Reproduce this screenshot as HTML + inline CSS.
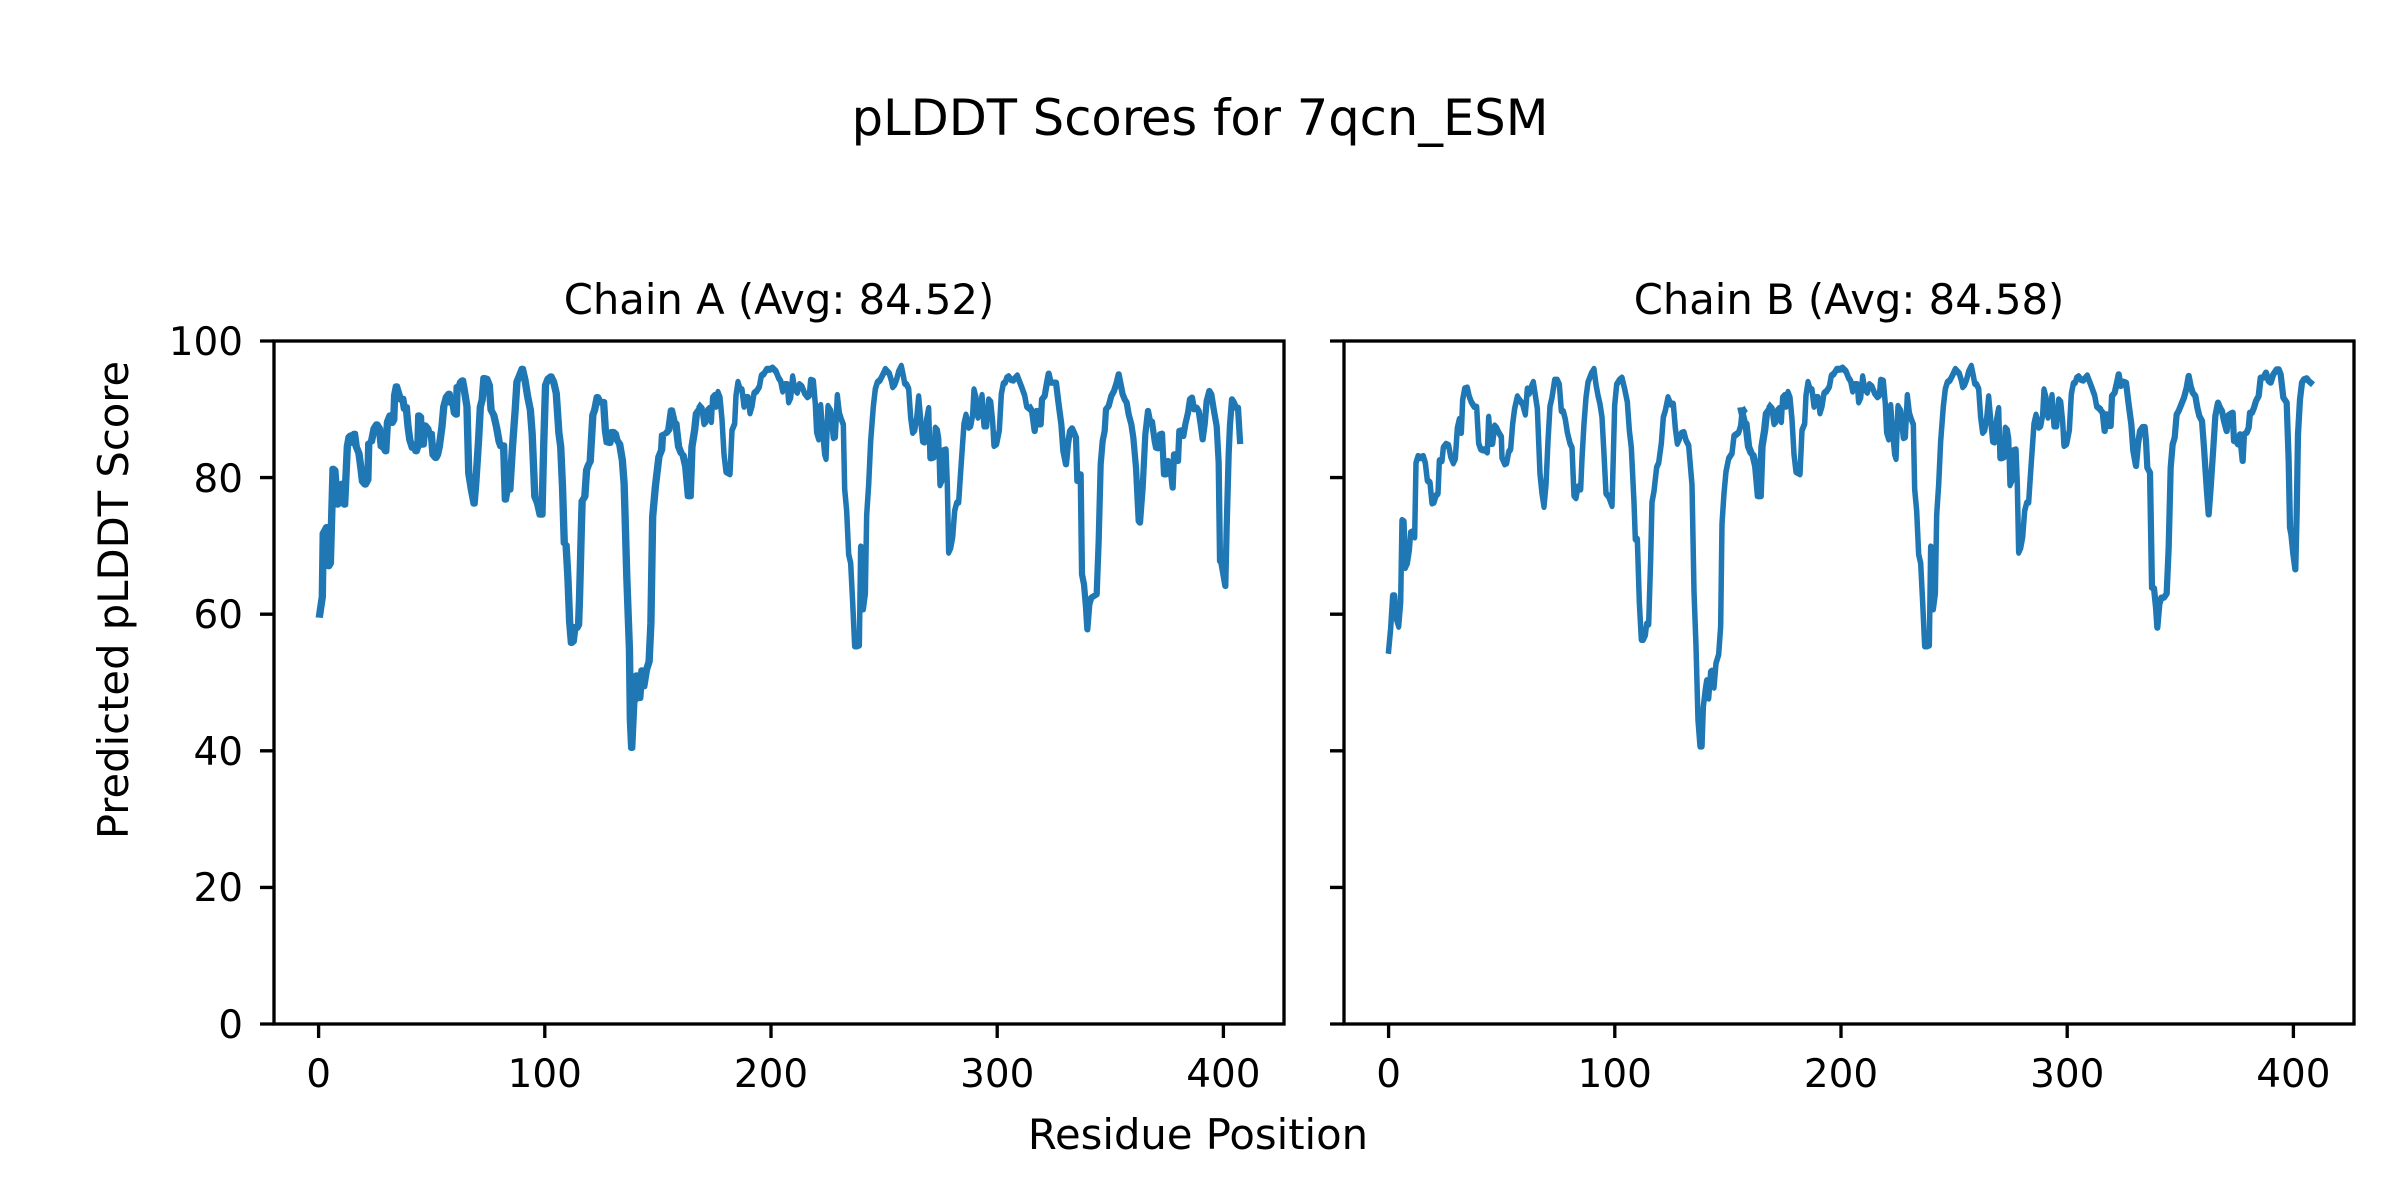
<!DOCTYPE html>
<html><head><meta charset="utf-8"><style>
html,body{margin:0;padding:0;background:#fff;}
svg{display:block;}
text{font-family:"DejaVu Sans","Liberation Sans",sans-serif;fill:#000;}
.ln{fill:none;stroke:#1f77b4;stroke-linejoin:round;stroke-linecap:square;}
.z1 .ln{stroke-width:16.5;}
.z3 .ln{stroke-width:16.5;}
.z5 .ln{stroke-width:18.75;}
</style></head><body>
<svg width="2400" height="1200" viewBox="0 0 2400 1200" xmlns="http://www.w3.org/2000/svg">
<rect width="2400" height="1200" fill="#fff"/>
<text x="1200" y="135" font-size="49.5" text-anchor="middle">pLDDT Scores for 7qcn_ESM</text>
<text x="779" y="314" font-size="41.7" text-anchor="middle">Chain A (Avg: 84.52)</text>
<text x="1849" y="314" font-size="41.7" text-anchor="middle">Chain B (Avg: 84.58)</text>
<text x="1198" y="1149" font-size="41.7" text-anchor="middle">Residue Position</text>
<text transform="translate(128,600) rotate(-90)" font-size="41.7" text-anchor="middle">Predicted pLDDT Score</text>

<g font-size="38.9" text-anchor="end">
<text x="243" y="355">100</text>
<text x="243" y="492">80</text>
<text x="243" y="628">60</text>
<text x="243" y="765">40</text>
<text x="243" y="901">20</text>
<text x="243" y="1038">0</text>
</g>
<g font-size="38.9" text-anchor="middle">
<text x="318.6" y="1087">0</text>
<text x="544.8" y="1087">100</text>
<text x="771" y="1087">200</text>
<text x="997.2" y="1087">300</text>
<text x="1223.4" y="1087">400</text>
<text x="1388.6" y="1087">0</text>
<text x="1614.8" y="1087">100</text>
<text x="1841" y="1087">200</text>
<text x="2067.2" y="1087">300</text>
<text x="2293.4" y="1087">400</text>
</g>

<g stroke="#000" stroke-width="3.33">
<path d="M274,341H260M274,477.6H260M274,614.2H260M274,750.8H260M274,887.4H260M274,1024H260"/>
<path d="M1344,341H1330M1344,477.6H1330M1344,614.2H1330M1344,750.8H1330M1344,887.4H1330M1344,1024H1330"/>
<path d="M318.6,1024V1038M544.8,1024V1038M771,1024V1038M997.2,1024V1038M1223.4,1024V1038"/>
<path d="M1388.6,1024V1038M1614.8,1024V1038M1841,1024V1038M2067.2,1024V1038M2293.4,1024V1038"/>
</g>

<!-- Chain A -->
<g class="z1" transform="translate(200,300) scale(0.44643,0.33333)"><path class="ln" d="M268,945 L274,890 276,700 284,680 288,800 292,790 298,505 302,510 308,615 314,590 318,550 324,615 330,440 334,410 338,405 342,430 346,400 350,440 356,460 360,500 364,545 370,555 376,540 378,430 384,425 390,385 396,372 402,385 406,440 412,445 416,455 420,365 426,345 430,370 434,360 436,285 440,258 446,285 450,300 454,295 458,328 462,320 466,380 470,420 476,445 480,440 484,455 488,440 490,345 494,350 496,435 500,435 504,375 510,385 514,405 518,400 522,465 528,475 532,465 536,440 542,380 546,320 552,290 558,280 562,310 566,305 570,340 574,345 576,260 580,262 584,245 588,240 592,270 598,320 602,520 608,570 614,612 618,545 624,420 628,320 632,300 636,233 642,235 648,255 652,330 658,345 664,380 670,425 674,440 680,435 684,600 688,570 694,570 700,440 706,330 710,245 716,225 722,205 728,240 734,290 740,330 744,400 750,590 756,610 762,645 766,645 770,430 774,255 780,235 786,228 792,245 798,280 804,400 808,440 812,560 816,730 820,735 824,830 828,965 832,1030 836,1025 840,980 844,985 848,975 850,900 852,800 854,695 856,603 862,590 866,510 870,495 874,485 880,345 884,330 890,290 896,305 900,310 904,305 908,390 912,428 918,430 922,395 926,395 930,400 934,420 940,432 946,480 950,550 952,640 956,830 962,1050 964,1260 967,1345 972,1200 975,1200 978,1125 985,1195 990,1110 994,1160 1000,1110 1006,1085 1010,970 1014,650 1020,560 1028,470 1034,450 1036,405 1044,400 1050,390 1056,330 1062,365 1066,370 1072,440 1078,460 1082,465 1088,500 1094,590 1098,590 1102,440 1108,390 1112,340 1120,325"/></g>
<g id="a3" class="z3" transform="translate(700,341) scale(0.33333,0.43554)"><path class="ln" d="M0,150 L6,155 12,190 18,185 22,160 28,155 34,185 38,130 44,125 48,150 54,118 60,130 66,180 72,260 78,300 90,305 96,205 104,190 108,125 114,95 120,110 126,112 132,150 138,130 144,130 150,165 156,150 162,120 170,115 178,105 184,80 192,75 200,65 210,65 218,62 228,70 236,85 242,92 248,115 254,100 262,100 266,140 272,130 278,82 284,110 292,118 298,100 306,105 314,120 322,128 328,125 332,90 340,92 346,145 350,210 356,225 362,148 368,210 374,260 378,270 384,150 392,160 400,222 406,220 412,125 418,165 424,180 430,192 434,340 440,390 446,490 452,510 458,600 464,700 472,700 478,698 482,473 486,475 490,615 496,580 500,400 506,330 512,230 520,150 526,110 532,95 540,90 548,78 556,65 562,70 568,75 574,90 578,105 584,100 590,88 596,70 604,58 610,80 614,97 620,100 626,110 632,175 638,210 644,205 650,178 656,128 662,180 668,230 674,232 680,180 686,155 690,268 696,268 702,266 706,200 712,205 716,225 720,330 726,320 730,252 738,250 742,330 746,485 752,475 758,450 764,390 770,372 776,370 782,300 792,190 798,170 806,198 812,195 818,170 822,112 828,130 834,175 840,165 846,125 852,195 860,195 866,135 872,140 878,185 882,240 890,236 898,205 904,122 910,98 916,95 920,85 926,82 932,88 940,90 946,85 952,80 958,92 966,108 974,125 980,150 988,155"/></g>
<g class="z5" transform="translate(1030,341) scale(0.33333)"><path class="ln" d="M0,200 L6,210 14,270 20,210 24,250 32,250 36,175 44,165 50,130 56,98 62,125 70,125 78,125 86,190 94,250 100,330 108,370 114,310 120,270 126,262 132,275 138,290 142,420 148,400 152,400 156,700 162,730 168,800 172,865 178,790 184,770 192,765 200,760 206,600 212,370 218,300 224,270 228,205 236,195 244,165 252,150 260,125 266,100 272,130 278,160 284,175 290,185 296,220 304,250 310,290 318,380 326,540 330,545 338,440 346,280 354,210 360,240 366,242 374,300 378,320 384,322 390,280 396,278 402,400 408,400 414,360 420,370 428,440 432,340 438,340 444,360 448,270 454,268 460,285 466,250 474,215 480,175 486,170 492,205 500,200 506,210 512,250 518,295 524,250 530,180 538,150 544,160 552,210 560,255 566,365 570,660 574,665 580,700 586,735 590,560 596,340 600,250 606,175 612,185 618,200 624,200 630,300"/></g>

<!-- Chain B -->
<g class="z3" transform="translate(1222,341) scale(0.33333,0.43554)"><path class="ln" d="M500,710 L506,660 512,585 518,585 524,640 530,655 536,600 540,412 546,415 550,520 556,510 562,480 566,440 572,438 578,450 582,280 588,265 596,268 604,265 610,280 616,320 624,325 630,372 636,370 642,355 648,350 652,275 660,275 664,245 672,237 680,240 686,265 694,280 700,270 706,200 712,180 718,210 722,135 728,110 736,108 742,128 748,140 756,150 764,152 770,235 776,248 782,250 788,250 796,255 800,175 806,235 812,235 818,195 824,200 830,210 838,220 840,268 848,282 854,280 860,255 866,248 872,190 878,155 886,128 892,135 902,145 910,168 916,110 922,120 928,105 934,95 940,125 946,155 950,230 954,305 960,350 966,380 972,330 978,230 984,150 990,130 998,90 1006,90 1012,100 1018,160 1024,162 1030,180 1036,210 1044,235 1050,245 1056,355 1062,360 1068,335 1076,340 1080,270 1086,190 1092,130 1098,95 1108,75 1116,65 1122,100 1128,125 1134,145 1140,175 1146,260 1152,350 1160,357 1170,378 1178,148 1184,100 1192,90 1200,85 1208,110 1216,140 1222,205 1228,245 1236,370 1240,455 1246,455 1252,600 1258,685 1264,685 1270,675 1274,650 1280,650 1286,500 1290,370 1296,345 1304,290 1310,280 1318,235 1324,175 1330,160 1338,130 1346,145 1354,145 1360,200 1366,235 1372,225 1378,212 1386,210 1392,228 1400,240 1410,330 1416,575 1422,700 1428,870 1434,930 1440,930 1444,840 1450,800 1454,780 1460,820 1466,760 1470,758 1476,795 1482,740 1490,720 1496,655 1500,420 1506,350 1512,300 1520,270 1530,258 1536,218 1542,215 1550,210 1556,195 1560,165 1566,160"/></g>
<g class="z1" transform="translate(1270,300) scale(0.44643,0.33333)"><path class="ln" d="M1056,330 L1062,365 1066,370 1072,440 1078,460 1082,465 1088,500 1094,590 1098,590 1102,440 1108,390 1112,340 1120,325"/></g>
<use href="#a3" transform="translate(1070,0)"/>
<g class="z5" transform="translate(2100,341) scale(0.33333)"><path class="ln" d="M0,205 L8,215 14,270 20,220 24,255 32,255 36,165 44,155 52,120 56,100 62,135 70,122 78,125 86,190 94,250 100,330 108,375 114,310 120,270 128,258 134,258 138,300 142,380 150,395 156,740 162,742 168,800 172,860 178,790 184,770 192,770 200,758 206,620 212,380 218,310 224,290 230,220 236,210 244,190 252,170 260,140 266,105 272,135 278,155 286,165 292,200 298,225 306,240 312,320 320,440 326,520 332,440 340,320 346,225 354,185 360,200 366,210 372,240 380,270 386,222 392,218 398,215 402,300 408,300 414,310 420,280 428,360 432,280 440,275 446,260 450,215 456,215 462,200 468,180 476,165 482,110 490,110 498,95 506,120 512,125 520,100 530,85 536,85 542,100 550,170 560,185 566,360 570,560 574,580 580,640 586,685 590,520 594,280 600,175 606,125 612,115 620,112 626,120 632,125"/></g>

<g fill="none" stroke="#000" stroke-width="3.33" stroke-linecap="square">
<rect x="274" y="341" width="1010" height="683"/>
<rect x="1344" y="341" width="1010" height="683"/>
</g>
</svg>
</body></html>
